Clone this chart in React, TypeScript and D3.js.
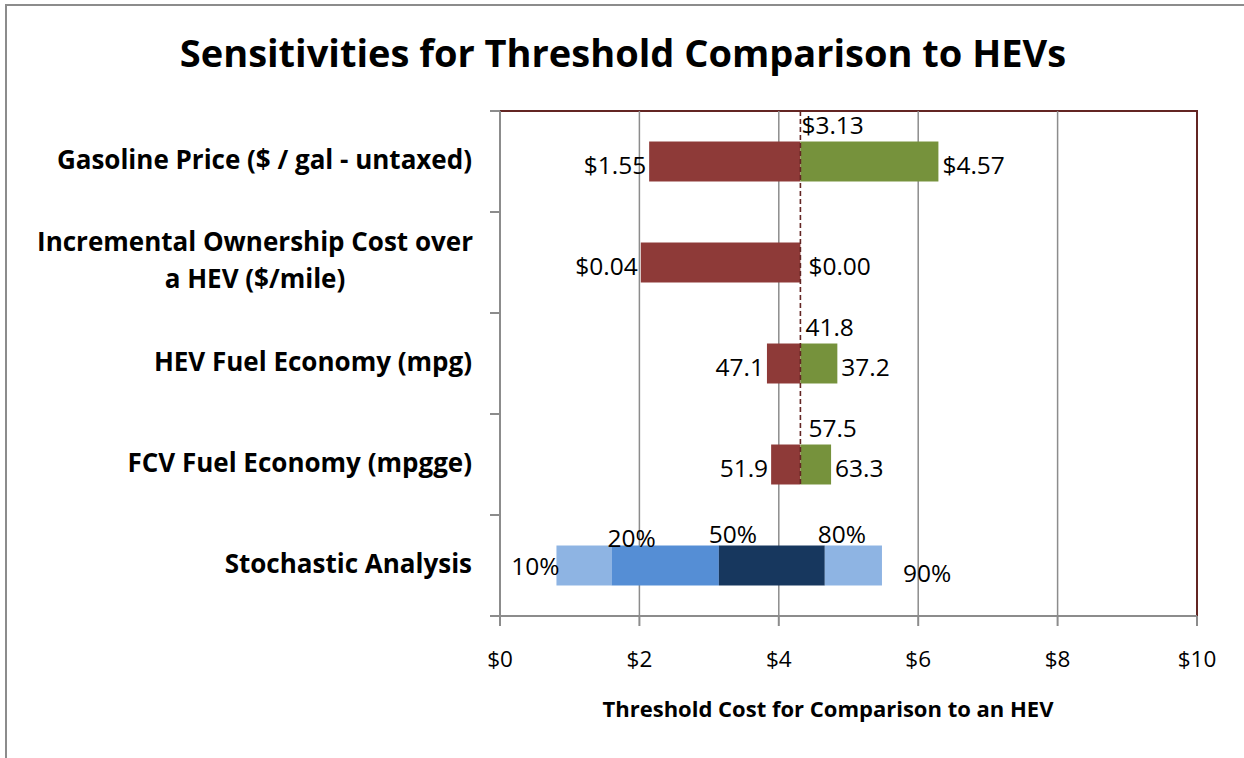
import * as d3 from 'd3'

// tornado categories (top to bottom); last one is the stochastic row
const categories = [
  ['Gasoline Price ($ / gal - untaxed)'],
  ['Incremental Ownership Cost over', 'a HEV ($/mile)'],
  ['HEV Fuel Economy (mpg)'],
  ['FCV Fuel Economy (mpgge)'],
  ['Stochastic Analysis'],
]

// threshold cost ($) at the base case
const baseValue = 4.31
// threshold cost at the low / high end of each sensitivity
const lowValues = [2.14, 2.02, 3.83, 3.89]
const highValues = [6.29, 4.31, 4.84, 4.75]
// input values shown as labels
const lowLabels = ['$1.55', '$0.04', '47.1', '51.9']
const highLabels = ['$4.57', '$0.00', '37.2', '63.3']
const baseLabels = ['$3.13', '', '41.8', '57.5']

// stochastic analysis percentiles
const percentiles = ['10%', '20%', '50%', '80%', '90%']
const percentileValues = [0.81, 1.6, 3.14, 4.66, 5.48]

const xTicks = [0, 2, 4, 6, 8, 10]

const W = 1244
const H = 758
const FONT = '"Open Sans", Lato, sans-serif'

const RED = '#8e3a38'
const GREEN = '#76923c'
const stochColors = ['#8eb4e3', '#558ed5', '#17375e', '#8eb4e3']
// nudges for the percentile labels: dx from the value, baseline from bar top
const pctOffsets = [
  [3, 29],
  [-4, 1],
  [-10, -3],
  [-7, -3],
  [21, 36],
]

export default function App() {
  const margin = { top: 111, right: 47, bottom: 142, left: 500 }
  const x = d3
    .scaleLinear()
    .domain([0, 10])
    .range([margin.left, W - margin.right])
  const y = d3
    .scaleBand<number>()
    .domain(categories.map((_, i) => i))
    .range([margin.top, H - margin.bottom])
    .paddingInner(0.604)
    .paddingOuter(0.302)

  const top = margin.top
  const bottom = H - margin.bottom
  const left = x(0)
  const right = x(10)
  const bw = y.bandwidth()
  const step = y.step()
  const boundaries = d3.range(categories.length + 1).map((i) => top + i * step)

  const stochRow = categories.length - 1
  const yS = y(stochRow) as number

  return (
    <svg
      width={W}
      height={H}
      style={{ position: 'absolute', left: 0, top: 0, fontFamily: FONT }}
    >
      <rect width={W} height={H} fill="white" />
      {/* outer chart border */}
      <path d={`M6,${H} V5 H${W}`} fill="none" stroke="#8c8c8c" strokeWidth={2} />

      <text x={623} y={67} textAnchor="middle" fontSize={38} fontWeight="bold">
        Sensitivities for Threshold Comparison to HEVs
      </text>

      {/* plot area frame */}
      <path
        d={`M${left},${top} H${right} V${bottom}`}
        fill="none"
        stroke="#632523"
        strokeWidth={2}
      />

      {/* gridlines */}
      {xTicks.slice(1, -1).map((t) => (
        <line
          key={t}
          x1={x(t)}
          x2={x(t)}
          y1={top}
          y2={bottom}
          stroke="#8c8c8c"
          strokeWidth={1.5}
        />
      ))}

      {/* sensitivity bars */}
      {lowValues.map((v, i) => {
        const yy = y(i) as number
        const zero = highValues[i] === baseValue
        return (
          <g key={i}>
            <rect
              x={x(Math.min(v, baseValue))}
              y={yy}
              width={Math.abs(x(baseValue) - x(v))}
              height={bw}
              fill={RED}
            />
            <rect
              x={x(baseValue)}
              y={yy}
              width={Math.max(0, x(highValues[i]) - x(baseValue))}
              height={bw}
              fill={GREEN}
            />
            <text x={x(v) - 3} y={yy + bw / 2 + 12} textAnchor="end" fontSize={24.5}>
              {lowLabels[i]}
            </text>
            <text
              x={x(highValues[i]) + (zero ? 8 : 4)}
              y={yy + bw / 2 + 12}
              fontSize={24.5}
            >
              {highLabels[i]}
            </text>
            {baseLabels[i] && (
              <text
                x={x(baseValue) + (i === 0 ? 1 : i === 2 ? 5 : 8)}
                y={yy - 8}
                fontSize={24.5}
              >
                {baseLabels[i]}
              </text>
            )}
          </g>
        )
      })}

      {/* base case line */}
      <line
        x1={x(baseValue)}
        x2={x(baseValue)}
        y1={top}
        y2={(y(lowValues.length - 1) as number) + bw}
        stroke="#632523"
        strokeWidth={1.6}
        strokeDasharray="5,3"
      />

      {/* stochastic analysis */}
      {percentileValues.slice(0, -1).map((v, i) => (
        <rect
          key={i}
          x={x(v)}
          y={yS}
          width={x(percentileValues[i + 1]) - x(v)}
          height={bw}
          fill={stochColors[i]}
        />
      ))}
      {percentiles.map((p, i) => (
        <text
          key={p}
          x={x(percentileValues[i]) + pctOffsets[i][0]}
          y={yS + pctOffsets[i][1]}
          textAnchor={i === 0 ? 'end' : 'start'}
          fontSize={24.5}
        >
          {p}
        </text>
      ))}

      {/* axes */}
      <line x1={left} x2={left} y1={top} y2={bottom} stroke="#8c8c8c" strokeWidth={2} />
      <line x1={left} x2={right} y1={bottom} y2={bottom} stroke="#8c8c8c" strokeWidth={2} />
      {boundaries.map((b, i) => (
        <line key={i} x1={left - 10} x2={left} y1={b} y2={b} stroke="#8c8c8c" strokeWidth={2} />
      ))}
      {xTicks.map((t) => (
        <g key={t}>
          <line x1={x(t)} x2={x(t)} y1={bottom} y2={bottom + 10} stroke="#8c8c8c" strokeWidth={2} />
          <text x={x(t)} y={bottom + 51} textAnchor="middle" fontSize={22.5}>
            {d3.format('$')(t)}
          </text>
        </g>
      ))}

      {/* category labels */}
      {categories.map((lines, i) => {
        const cy = (y(i) as number) + bw / 2
        const multi = lines.length > 1
        return (
          <text
            key={i}
            textAnchor={multi ? 'middle' : 'end'}
            fontSize={26}
            fontWeight="bold"
          >
            {lines.map((l, j) => (
              <tspan key={j} x={multi ? 255 : 472} y={cy + 7 + (j - (lines.length - 1) / 2) * 37}>
                {l}
              </tspan>
            ))}
          </text>
        )
      })}

      <text x={828} y={717} textAnchor="middle" fontSize={22} fontWeight="bold">
        Threshold Cost for Comparison to an HEV
      </text>
    </svg>
  )
}
